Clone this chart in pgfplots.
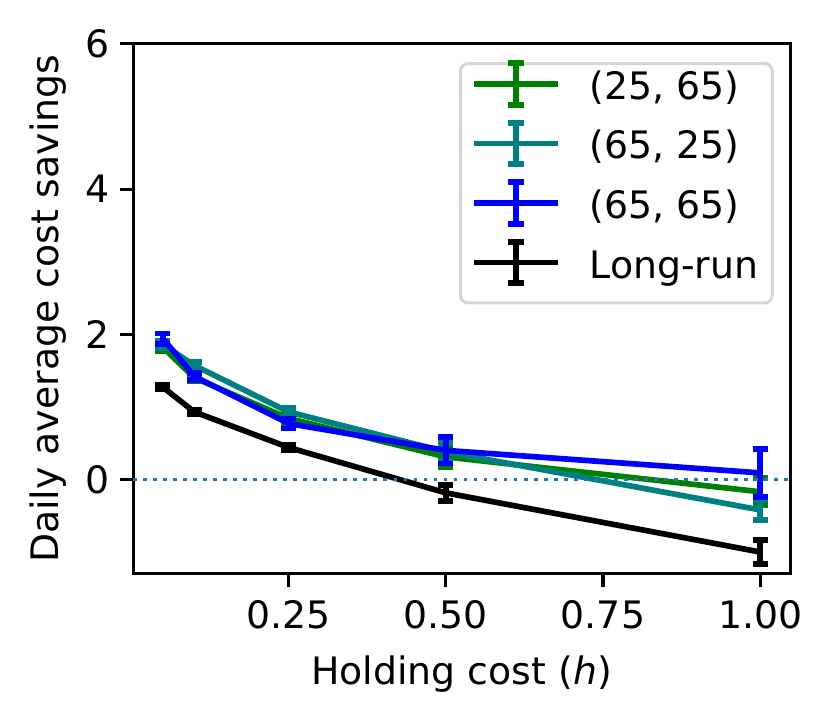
\documentclass[border=0pt]{standalone}
\usepackage{fontspec}
\setmainfont{DejaVu Sans}
\usepackage{pgfplots}
\pgfplotsset{compat=1.18}
\definecolor{mgreen}{RGB}{0,128,0}
\definecolor{mteal}{RGB}{0,128,128}
\definecolor{mblue}{RGB}{0,0,255}
\definecolor{cZero}{HTML}{1F77B4}
\pgfplotsset{
  ebar legend/.style={
    legend image code/.code={
      \draw[overlay,line width=1.5pt,##1] (0pt,4.1pt) -- (22pt,4.1pt);
      \draw[overlay,line width=1.5pt,##1] (11pt,-1.4pt) -- (11pt,9.6pt);
      \draw[overlay,line width=1.5pt,##1] (9pt,-1.4pt) -- (13pt,-1.4pt);
      \draw[overlay,line width=1.5pt,##1] (9pt,9.6pt) -- (13pt,9.6pt);
      \path[draw=none] (0pt,0pt) -- (30.5pt,0pt);
    }
  }
}
\begin{document}
\begin{tikzpicture}
\path[use as bounding box] (-35.2pt,-40.5pt) rectangle (184.9pt,151.8pt);
\begin{axis}[
  scale only axis,
  width=173.8pt, height=140.2pt,
  xmin=0.0025, xmax=1.0475,
  ymin=-1.30, ymax=6,
  axis line style={line width=0.8pt},
  every tick/.style={black, line width=0.8pt},
  major tick length=3.5pt,
  tick align=outside,
  tick pos=left,
  xtick={0.25,0.5,0.75,1.0},
  xticklabels={0.25,0.50,0.75,1.00},
  ytick={0,2,4,6},
  /pgf/number format/assume math mode=true,
  tick label style={font=\fontsize{10}{12}\selectfont},
  xticklabel style={anchor=base, inner sep=0pt, yshift=-11.1pt},
  yticklabel style={anchor=east, inner sep=0pt, xshift=-2.5pt},
  label style={font=\fontsize{10}{12}\selectfont},
  xlabel={Holding cost (\textit{h})},
  ylabel={Daily average cost savings},
  xlabel style={at={(axis description cs:0.5,0)}, anchor=base, yshift=-29.4pt, inner sep=0pt},
  ylabel style={at={(axis description cs:0,0.5)}, anchor=base, yshift=19.7pt, inner sep=0pt},
  legend style={
    at={(1,1)}, anchor=north east, xshift=-4.3pt, yshift=-4.8pt,
    draw=black!16, line width=0.8pt, rounded corners=2pt,
    fill=white,
    inner xsep=3.7pt, inner ysep=2.2pt,
    row sep=4.05pt,
    font=\fontsize{10}{12}\selectfont,
    cells={anchor=base west},
    nodes={inner sep=0pt, text height=7.3pt, text depth=4.4pt},
  },
  ebar legend,
  error bars/y dir=both, error bars/y explicit,
  error bars/error bar style={line width=1.5pt},
  error bars/error mark options={line width=1.5pt, mark size=2pt, rotate=90},
]
\addplot[mgreen, line width=1.5pt, line join=round, mark=none] coordinates {
  (0.05,1.82) +- (0,0.05)
  (0.10,1.40) +- (0,0.05)
  (0.25,0.84) +- (0,0.06)
  (0.50,0.31) +- (0,0.14)
  (1.00,-0.17) +- (0,0.19)
};
\addlegendentry{(25, 65)\hspace{3pt}}
\addplot[mteal, line width=1.5pt, line join=round, mark=none] coordinates {
  (0.05,1.86) +- (0,0.05)
  (0.10,1.57) +- (0,0.05)
  (0.25,0.93) +- (0,0.05)
  (0.50,0.38) +- (0,0.12)
  (1.00,-0.42) +- (0,0.14)
};
\addlegendentry{(65, 25)\hspace{3pt}}
\addplot[mblue, line width=1.5pt, line join=round, mark=none] coordinates {
  (0.05,1.94) +- (0,0.07)
  (0.10,1.42) +- (0,0.05)
  (0.25,0.77) +- (0,0.07)
  (0.50,0.40) +- (0,0.18)
  (1.00,0.09) +- (0,0.33)
};
\addlegendentry{(65, 65)\hspace{3pt}}
\addplot[black, line width=1.5pt, line join=round, mark=none] coordinates {
  (0.05,1.27) +- (0,0.03)
  (0.10,0.93) +- (0,0.03)
  (0.25,0.44) +- (0,0.04)
  (0.50,-0.185) +- (0,0.11)
  (1.00,-1.00) +- (0,0.165)
};
\addlegendentry{Long-run\hspace{3pt}}
\addplot[cZero, line width=1pt, dash pattern=on 1pt off 1.65pt, forget plot] coordinates {(0.0025,0) (1.0475,0)};
\end{axis}
\end{tikzpicture}
\end{document}
